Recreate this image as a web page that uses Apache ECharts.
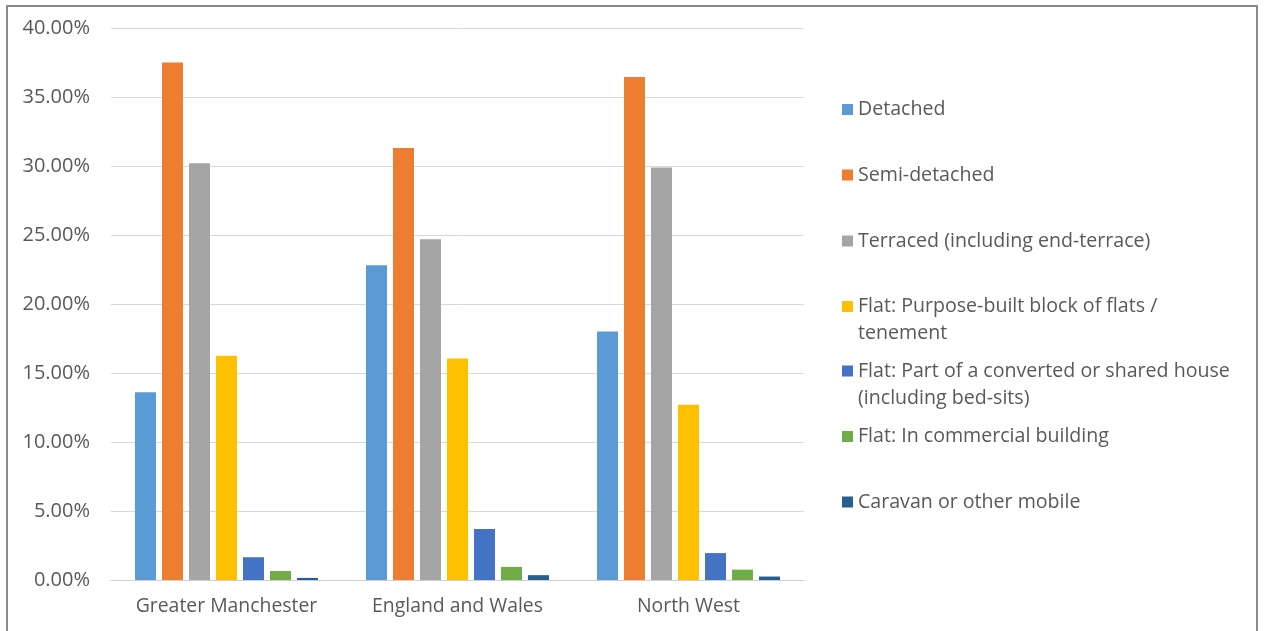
<!DOCTYPE html>
<html>
<head>
<meta charset="utf-8">
<script src="https://cdn.jsdelivr.net/npm/echarts@6/dist/echarts.min.js"></script>
<style>
html,body{margin:0;padding:0;background:#fff;}
#chart{width:1264px;height:631px;}
</style>
</head>
<body>
<div id="chart"></div>
<script>
var categories = ['Greater Manchester', 'England and Wales', 'North West'];
var seriesNames = [
  'Detached',
  'Semi-detached',
  'Terraced (including end-terrace)',
  'Flat: Purpose-built block of flats /\ntenement',
  'Flat: Part of a converted or shared house\n(including bed-sits)',
  'Flat: In commercial building',
  'Caravan or other mobile'
];
var detached = [13.6, 22.8, 18.0];
var semiDetached = [37.5, 31.3, 36.45];
var terraced = [30.2, 24.7, 29.9];
var flatPurposeBuilt = [16.25, 16.05, 12.7];
var flatConverted = [1.65, 3.7, 1.95];
var flatCommercial = [0.65, 0.95, 0.75];
var caravan = [0.15, 0.35, 0.25];
var yTicks = [0, 5, 10, 15, 20, 25, 30, 35, 40];

var colors = ['#5B9BD5', '#ED7D31', '#A5A5A5', '#FFC000', '#4472C4', '#70AD47', '#255E91'];
var allValues = [detached, semiDetached, terraced, flatPurposeBuilt, flatConverted, flatCommercial, caravan];

var FONT = '"Open Sans", sans-serif';
var TXT = '#595959';

var iconCenters = [109.5, 175, 241, 306.5, 371, 436.5, 502];
var legends = seriesNames.map(function (name, i) {
  var twoLine = name.indexOf('\n') >= 0;
  return {
    data: [name],
    orient: 'vertical',
    left: 842,
    top: twoLine ? iconCenters[i] - 40.5 : iconCenters[i] - 13.5,
    padding: 0,
    itemWidth: 11,
    itemHeight: 11,
    icon: 'rect',
    selectedMode: false,
    formatter: function (n) { return (n.indexOf('\n') >= 0 ? '\n' : '') + n; },
    textStyle: {
      fontFamily: FONT,
      fontSize: 19.6,
      color: TXT,
      lineHeight: 27
    }
  };
});

var series = seriesNames.map(function (name, i) {
  return {
    name: name,
    type: 'bar',
    data: allValues[i],
    barWidth: 21,
    barGap: '28.6%',
    itemStyle: { color: colors[i] }
  };
});

var chart = echarts.init(document.getElementById('chart'), null, { renderer: 'canvas' });
chart.setOption({
  animation: false,
  color: colors,
  grid: { left: 111, right: 460, top: 28, bottom: 51, containLabel: false },
  legend: legends,
  xAxis: {
    type: 'category',
    data: categories,
    axisTick: { show: false },
    axisLine: { lineStyle: { color: '#d0d0d0', width: 1 } },
    axisLabel: { interval: 0, hideOverlap: false, fontFamily: FONT, fontSize: 19.4, color: TXT, margin: 17 }
  },
  yAxis: {
    type: 'value',
    min: yTicks[0],
    max: yTicks[yTicks.length - 1],
    interval: 5,
    axisLine: { show: false },
    axisTick: { show: false },
    splitLine: { lineStyle: { color: '#d9d9d9', width: 1 } },
    axisLabel: {
      fontFamily: FONT, fontSize: 20, color: TXT, margin: 21,
      formatter: function (v) { return v.toFixed(2) + '%'; }
    }
  },
  graphic: [{
    type: 'rect',
    shape: { x: 7, y: 6, width: 1250, height: 700 },
    style: { fill: null, stroke: '#8a8a8a', lineWidth: 2 },
    silent: true
  }],
  series: series
});
</script>
</body>
</html>
